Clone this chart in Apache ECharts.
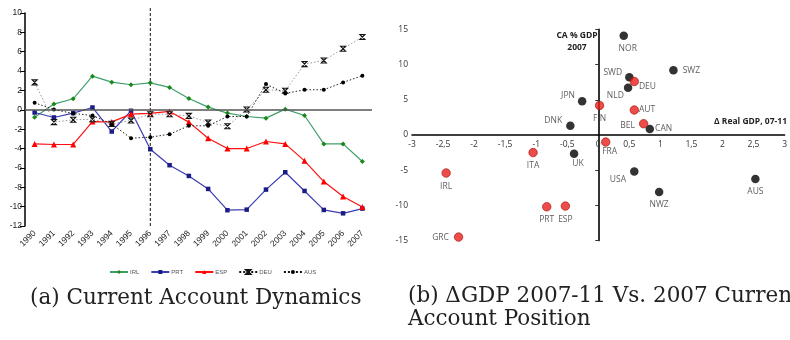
<!DOCTYPE html>
<html>
<head>
<meta charset="utf-8">
<script src="https://cdn.jsdelivr.net/npm/echarts@6/dist/echarts.min.js"></script>
<style>
  html, body { margin: 0; padding: 0; background: #fff; }
  #chart { width: 790px; height: 340px; }
</style>
</head>
<body>
<div id="chart"></div>
<script>
// ---- Panel (a): current account balance, % of GDP ----
const years = ['1990','1991','1992','1993','1994','1995','1996','1997','1998','1999',
               '2000','2001','2002','2003','2004','2005','2006','2007'];
const irl = [-0.76, 0.59, 1.14, 3.48, 2.86, 2.59, 2.79, 2.31, 1.17, 0.28,
             -0.34, -0.69, -0.86, 0.07, -0.59, -3.52, -3.52, -5.34];
const prt = [-0.28, -0.79, -0.34, 0.24, -2.24, -0.10, -4.07, -5.72, -6.83, -8.17,
             -10.37, -10.31, -8.24, -6.45, -8.38, -10.34, -10.69, -10.20];
const esp = [-3.52, -3.58, -3.58, -1.21, -1.25, -0.45, -0.36, -0.17, -1.27, -2.93,
             -4.00, -4.00, -3.27, -3.52, -5.27, -7.41, -8.96, -10.03];
const deu = [2.83, -1.27, -1.03, -0.97, -1.45, -1.10, -0.45, -0.45, -0.63, -1.31,
             -1.69, 0.03, 2.07, 1.97, 4.72, 5.10, 6.31, 7.52];
const aus = [0.72, 0.03, -0.38, -0.59, -1.48, -2.93, -2.83, -2.52, -1.65, -1.65,
             -0.69, -0.69, 2.66, 1.69, 2.07, 2.07, 2.83, 3.52];
// vertical reference at the start of the euro convergence period
const breakYear = '1996';
const breakSpan = [-12, 10.5];

// ---- Panel (b): real GDP change 2007-11 vs current account 2007 ----
const euroNames = ['DEU', 'FIN', 'AUT', 'BEL', 'FRA', 'ITA', 'IRL', 'PRT', 'ESP', 'GRC'];
const euroGdp   = [0.58, 0.02, 0.58, 0.73, 0.12, -1.05, -2.45, -0.83, -0.53, -2.25];
const euroCa    = [7.6, 4.2, 3.55, 1.6, -1.0, -2.5, -5.4, -10.2, -10.1, -14.5];
const otherNames = ['NOR', 'SWZ', 'SWD', 'NLD', 'CAN', 'JPN', 'DNK', 'UK', 'USA', 'NWZ', 'AUS'];
const otherGdp   = [0.41, 1.21, 0.50, 0.48, 0.83, -0.26, -0.45, -0.39, 0.58, 0.98, 2.53];
const otherCa    = [14.1, 9.2, 8.2, 6.7, 0.85, 4.8, 1.3, -2.65, -5.2, -8.1, -6.25];

// label placement for each country tag
const tagPlace = {
  NOR: { position: 'bottom', distance: 4, offset: [4, 0] },
  SWZ: { position: 'right', distance: 5 },
  SWD: { position: 'left', distance: 3, offset: [0, -5] },
  DEU: { position: 'right', distance: 0, offset: [0, 5] },
  NLD: { position: 'left', distance: 0, offset: [0, 8] },
  FIN: { position: 'bottom', distance: 4 },
  AUT: { position: 'right', distance: 0 },
  BEL: { position: 'left', distance: 4, offset: [0, 2] },
  CAN: { position: 'right', distance: 1 },
  FRA: { position: 'bottom', distance: 0, offset: [4, 0] },
  JPN: { position: 'left', distance: 3, offset: [0, -6] },
  DNK: { position: 'left', distance: 4, offset: [0, -5] },
  ITA: { position: 'bottom', distance: 4 },
  UK:  { position: 'bottom', distance: 1, offset: [4, 0] },
  IRL: { position: 'bottom', distance: 4 },
  PRT: { position: 'bottom', distance: 4 },
  ESP: { position: 'bottom', distance: 4 },
  GRC: { position: 'left', distance: 5 },
  USA: { position: 'left', distance: 4, offset: [0, 8] },
  NWZ: { position: 'bottom', distance: 4 },
  AUS: { position: 'bottom', distance: 4 }
};

const sans = 'Liberation Sans';
const open = 'Open Sans';
const serif = 'DejaVu Serif';

// scatter grid geometry; the horizontal axis is lifted to the y = 0 line
const scatterGrid = { left: 412, top: 29.4, width: 379, height: 211.2 };
const caMin = -15, caMax = 15;
const zeroLift = scatterGrid.height * (0 - caMin) / (caMax - caMin);

function pointsOf(names, xs, ys) {
  return names.map((n, i) => ({
    name: n,
    value: [xs[i], ys[i]],
    label: Object.assign({ show: true, formatter: n }, tagPlace[n])
  }));
}

const hourglass = 'path://M0,0L10,0L0,10L10,10Z';

const chart = echarts.init(document.getElementById('chart'), null, { renderer: 'canvas' });

chart.setOption({
  animation: false,
  backgroundColor: '#fff',
  grid: [
    { left: 25, top: 13, width: 347, height: 213 },
    scatterGrid
  ],
  legend: {
    left: 104, top: 264,
    itemWidth: 18, itemHeight: 5, itemGap: 11,
    textStyle: { fontFamily: sans, fontSize: 6, color: '#555', padding: [0, 0, 0, -3] },
    data: [
      { name: 'IRL' }, { name: 'PRT' }, { name: 'ESP' },
      { name: 'DEU', lineStyle: { color: '#111', type: [2, 2] } },
      { name: 'AUS', lineStyle: { color: '#111', type: [2, 2] } }
    ]
  },
  xAxis: [
    {
      gridIndex: 0, type: 'category', data: years, boundaryGap: true,
      axisLine: { show: false, onZero: false },
      axisTick: { show: false },
      axisLabel: { rotate: 45, margin: 6, fontFamily: sans, fontSize: 8.5, color: '#222', interval: 0 }
    },
    {
      gridIndex: 1, type: 'value', min: -3, max: 3, interval: 0.5,
      position: 'bottom', offset: -zeroLift,
      splitLine: { show: false },
      axisLine: { onZero: false, lineStyle: { color: '#000', width: 1.6 } },
      axisTick: { show: false },
      axisLabel: {
        margin: 5, fontFamily: open, fontSize: 8.5, color: '#333',
        formatter: v => String(v).replace('.', ',')
      }
    }
  ],
  yAxis: [
    {
      gridIndex: 0, type: 'value', min: -12, max: 10, interval: 2,
      splitLine: { show: false },
      axisLine: { show: true, onZero: false, lineStyle: { color: '#000', width: 1.5 } },
      axisTick: { show: true, length: 5, lineStyle: { color: '#000' } },
      axisLabel: { margin: 3, fontFamily: sans, fontSize: 8.5, color: '#222' }
    },
    {
      gridIndex: 1, type: 'value', min: caMin, max: caMax, interval: 5,
      splitLine: { show: false },
      axisLine: { show: true, lineStyle: { color: '#000', width: 1.6 } },
      axisTick: { show: true, length: 3, lineStyle: { color: '#333' } },
      axisLabel: { margin: 4, fontFamily: open, fontSize: 8.5, color: '#333' }
    }
  ],
  graphic: [
    { type: 'text', x: 577, y: 31, style: { text: 'CA % GDP', fontFamily: open, fontWeight: 'bold', fontSize: 8.5, fill: '#222', textAlign: 'center' } },
    { type: 'text', x: 577, y: 43, style: { text: '2007', fontFamily: open, fontWeight: 'bold', fontSize: 8.5, fill: '#222', textAlign: 'center' } },
    { type: 'text', x: 787, y: 117, style: { text: 'Δ Real GDP, 07-11', fontFamily: open, fontWeight: 'bold', fontSize: 8.5, fill: '#222', textAlign: 'right' } },
    { type: 'text', x: 30, y: 287, style: { text: '(a) Current Account Dynamics', fontFamily: serif, fontSize: 21.5, fill: '#222' } },
    { type: 'text', x: 408, y: 285, style: { text: '(b) ΔGDP 2007-11 Vs. 2007 Current', fontFamily: serif, fontSize: 21.5, fill: '#222' } },
    { type: 'text', x: 408, y: 308, style: { text: 'Account Position', fontFamily: serif, fontSize: 21.5, fill: '#222' } }
  ],
  series: [
    {
      name: 'break', type: 'line', xAxisIndex: 0, yAxisIndex: 0, clip: false,
      data: [[breakYear, breakSpan[0]], [breakYear, breakSpan[1]]],
      symbol: 'none', silent: true,
      lineStyle: { color: '#111', width: 1, type: [3, 2] },
      markLine: {
        silent: true, symbol: 'none', label: { show: false },
        lineStyle: { color: '#555', width: 1.5, type: 'solid' },
        data: [{ yAxis: 0 }]
      },
      z: 1
    },
    {
      name: 'IRL', type: 'line', xAxisIndex: 0, yAxisIndex: 0, data: irl,
      symbol: 'diamond', symbolSize: 5,
      itemStyle: { color: '#178a17' },
      lineStyle: { color: '#3f9f6c', width: 1.2 }
    },
    {
      name: 'PRT', type: 'line', xAxisIndex: 0, yAxisIndex: 0, data: prt,
      symbol: 'rect', symbolSize: 4.5,
      itemStyle: { color: '#1c1c86' },
      lineStyle: { color: '#3c3cb0', width: 1.2 }
    },
    {
      name: 'ESP', type: 'line', xAxisIndex: 0, yAxisIndex: 0, data: esp,
      symbol: 'triangle', symbolSize: 6,
      itemStyle: { color: '#ff0000' },
      lineStyle: { color: '#ff1010', width: 1.2 }
    },
    {
      name: 'DEU', type: 'line', xAxisIndex: 0, yAxisIndex: 0, data: deu,
      symbol: hourglass, symbolSize: 5,
      itemStyle: { color: '#fff', borderColor: '#111', borderWidth: 1.1 },
      lineStyle: { color: '#999', width: 1, type: [1.5, 2] }
    },
    {
      name: 'AUS', type: 'line', xAxisIndex: 0, yAxisIndex: 0, data: aus,
      symbol: 'circle', symbolSize: 4,
      itemStyle: { color: '#000' },
      lineStyle: { color: '#222', width: 1, type: [1.5, 2] }
    },
    {
      name: 'Others', type: 'scatter', xAxisIndex: 1, yAxisIndex: 1,
      data: pointsOf(otherNames, otherGdp, otherCa),
      symbolSize: 8.5,
      itemStyle: { color: '#000' },
      label: { fontFamily: open, fontSize: 8.5, color: '#333' }
    },
    {
      name: 'Euro', type: 'scatter', xAxisIndex: 1, yAxisIndex: 1,
      data: pointsOf(euroNames, euroGdp, euroCa),
      symbolSize: 8.5,
      itemStyle: { color: '#e8201a', borderColor: '#a01010', borderWidth: 0.8 },
      label: { fontFamily: open, fontSize: 8.5, color: '#333' }
    }
  ]
});
</script>
</body>
</html>
